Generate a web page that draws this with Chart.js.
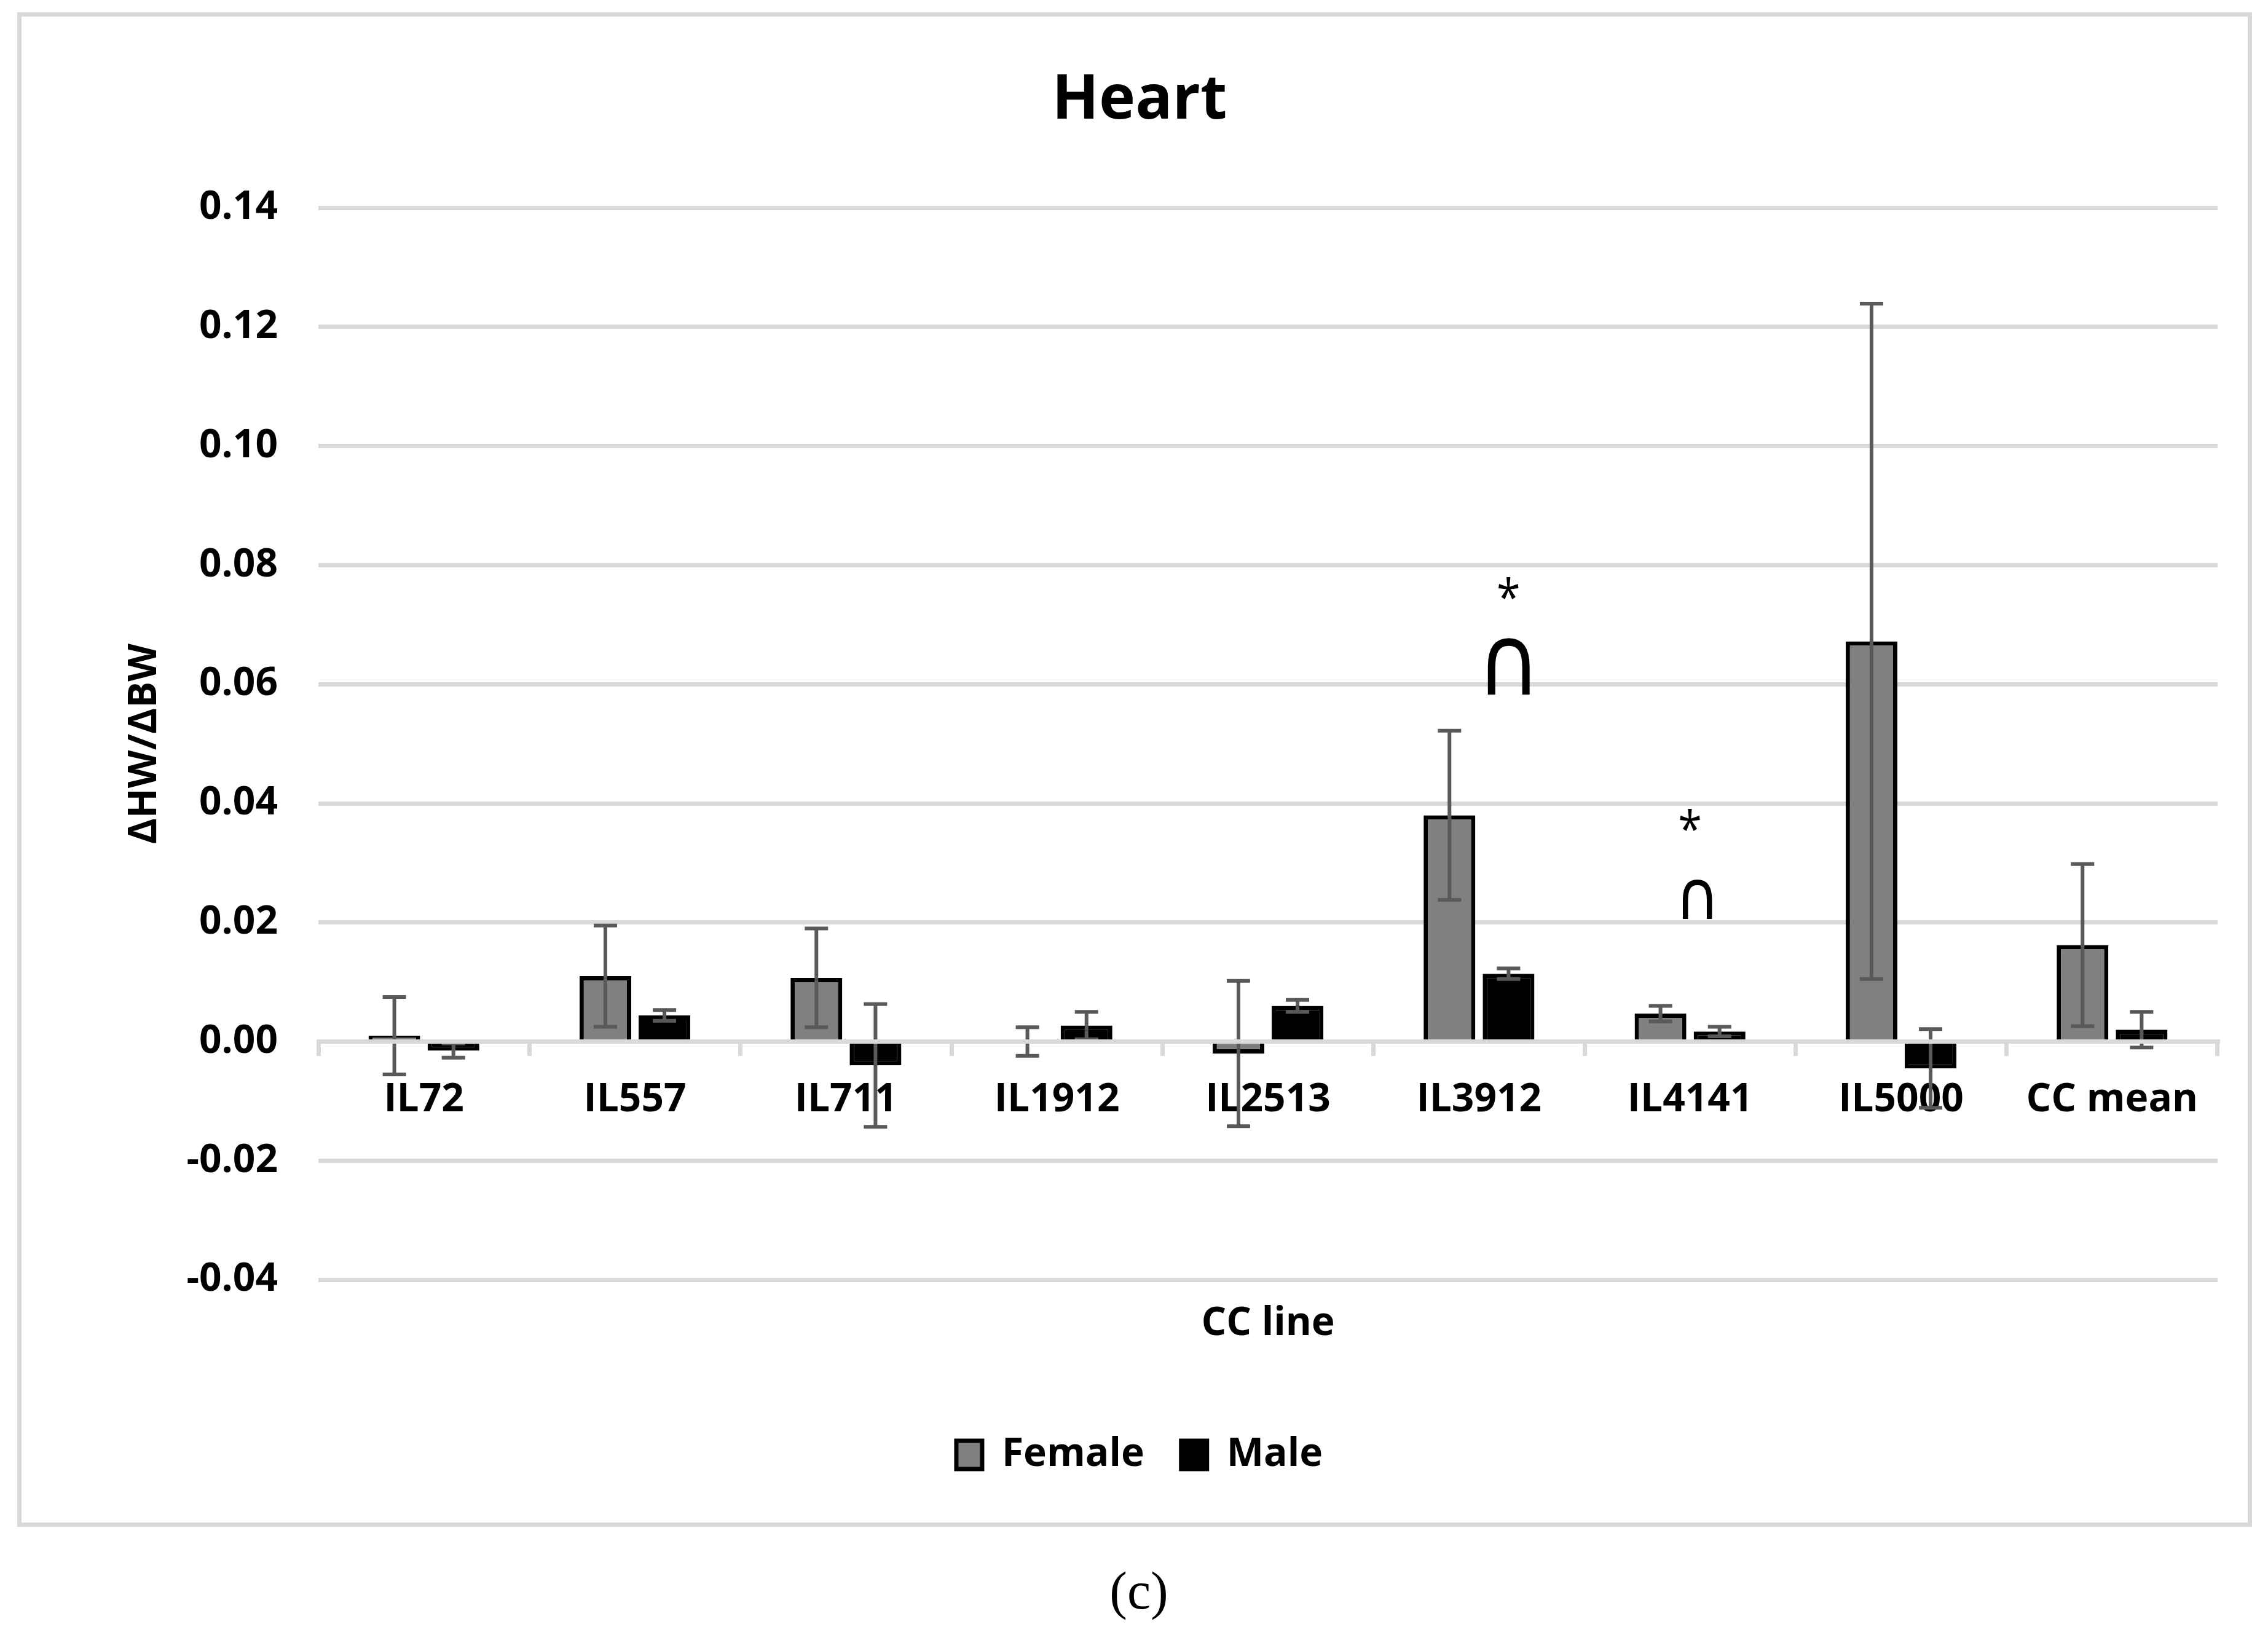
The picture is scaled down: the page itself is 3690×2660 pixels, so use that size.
<!DOCTYPE html>
<html>
<head>
<meta charset="utf-8">
<script src="https://cdn.jsdelivr.net/npm/chart.js@4.4.1/dist/chart.umd.min.js"></script>
<style>
  body { margin: 0; background: #fff; }
  #frame { position: absolute; left: 28px; top: 20px; width: 3636px; height: 2464px; box-sizing: border-box; border: 7px solid #d9d9d9; }
  #c { position: absolute; left: 0; top: 0; }
  #caption { position: absolute; left: 0; top: 2538px; width: 3706px; text-align: center; font: 86px "Liberation Serif", serif; line-height: 100px; color: #000; }
</style>
</head>
<body>
<div id="frame"></div>
<canvas id="c" width="3690" height="2660"></canvas>
<div id="caption">(c)</div>
<script>
// values
const categories = ['IL72', 'IL557', 'IL711', 'IL1912', 'IL2513', 'IL3912', 'IL4141', 'IL5000', 'CC mean'];
const female    = [0.0010, 0.0110, 0.0107, 0.0000, -0.0020, 0.0380, 0.0047, 0.0672, 0.0162];
const femaleErr = [0.0065, 0.0085, 0.0083, 0.0024, 0.0122, 0.0142, 0.0013, 0.0567, 0.0136];
const male      = [-0.0015, 0.0044, -0.0040, 0.0027, 0.0060, 0.0114, 0.0017, -0.0045, 0.0020];
const maleErr   = [0.0012, 0.0009, 0.0103, 0.0023, 0.0010, 0.0009, 0.0008, 0.0066, 0.0030];
const yTicks = [-0.04, -0.02, 0.00, 0.02, 0.04, 0.06, 0.08, 0.10, 0.12, 0.14];

// significance marks: category, symbol, value at its centre, dataset it sits over (-1 = centre)
const marks = [
  { cat: 'IL3912', text: '*', value: 0.0762, over: 1 },
  { cat: 'IL3912', text: '\u2229', value: 0.0630, over: 1 },
  { cat: 'IL4141', text: '*', value: 0.0373, over: -1 },
  { cat: 'IL4141', text: '\u2229', value: 0.0239, over: -1 }
];

const FONT = '"Open Sans", "Noto Sans", sans-serif';

const errorBars = {
  id: 'errorBars',
  afterDatasetsDraw(chart) {
    const ctx = chart.ctx;
    const y = chart.scales.y;
    ctx.save();
    ctx.strokeStyle = '#595959';
    ctx.lineWidth = 6;
    chart.data.datasets.forEach((ds, i) => {
      chart.getDatasetMeta(i).data.forEach((bar, j) => {
        const v = ds.data[j], e = ds.errors[j];
        const top = y.getPixelForValue(v + e);
        const bot = y.getPixelForValue(v - e);
        ctx.beginPath();
        ctx.moveTo(bar.x, top); ctx.lineTo(bar.x, bot);
        ctx.moveTo(bar.x - 19, top); ctx.lineTo(bar.x + 19, top);
        ctx.moveTo(bar.x - 19, bot); ctx.lineTo(bar.x + 19, bot);
        ctx.stroke();
      });
    });
    ctx.restore();
  }
};

const sigMarks = {
  id: 'sigMarks',
  afterDraw(chart) {
    const ctx = chart.ctx;
    const x = chart.scales.x, y = chart.scales.y;
    ctx.save();
    ctx.fillStyle = '#000';
    ctx.textAlign = 'left';
    ctx.textBaseline = 'alphabetic';
    marks.forEach(m => {
      const idx = categories.indexOf(m.cat);
      const star = m.text === '*';
      let cx = m.over >= 0 ? chart.getDatasetMeta(m.over).data[idx].x : x.getPixelForValue(idx);
      if (!star && m.over < 0) cx += 12;
      const cy = y.getPixelForValue(m.value);
      // glyph box to fit (w, h)
      const w = star ? 33 : (m.over >= 0 ? 70 : 49);
      const h = star ? 36 : (m.over >= 0 ? 92 : 64);
      ctx.font = '100px ' + (star ? FONT : '"DejaVu Sans", sans-serif');
      const t = ctx.measureText(m.text);
      const bw = t.actualBoundingBoxRight + t.actualBoundingBoxLeft;
      const bh = t.actualBoundingBoxAscent + t.actualBoundingBoxDescent;
      ctx.save();
      ctx.translate(cx, cy);
      ctx.scale(w / bw, h / bh);
      ctx.fillText(m.text, -(t.actualBoundingBoxRight - t.actualBoundingBoxLeft) / 2,
                   (t.actualBoundingBoxAscent - t.actualBoundingBoxDescent) / 2);
      ctx.restore();
    });
    ctx.restore();
  }
};

new Chart(document.getElementById('c'), {
  type: 'bar',
  data: {
    labels: categories,
    datasets: [
      { label: 'Female', data: female, errors: femaleErr, backgroundColor: '#808080', borderColor: '#000', borderWidth: 7 },
      { label: 'Male', data: male, errors: maleErr, backgroundColor: '#000', borderColor: '#000', borderWidth: 7 }
    ]
  },
  options: {
    responsive: false,
    devicePixelRatio: 1,
    animation: false,
    categoryPercentage: 0.56,
    barPercentage: 0.875,
    layout: { padding: { top: 37, left: 100, right: 82, bottom: 251 } },
    plugins: {
      tooltip: { enabled: false },
      title: {
        display: true, text: 'Heart', color: '#000',
        font: { family: FONT, size: 100, weight: 'bold' },
        padding: { top: 68, bottom: 113 }
      },
      subtitle: {
        display: true, text: 'CC line', position: 'bottom', fullSize: false, color: '#000',
        font: { family: FONT, size: 64, weight: 'bold' },
        padding: { top: 33, bottom: 83 }
      },
      legend: {
        position: 'bottom', weight: 3000,
        labels: { color: '#000', boxWidth: 42, boxHeight: 46, padding: 60, font: { family: FONT, size: 64, weight: 'bold' } }
      }
    },
    scales: {
      x: {
        position: { y: 0 },
        offset: true,
        grid: { offset: true, drawOnChartArea: false, drawTicks: true, tickLength: 20, tickWidth: 7, tickColor: '#d9d9d9', color: '#d9d9d9', lineWidth: 7 },
        border: { display: true, color: '#d9d9d9', width: 7, z: 1 },
        ticks: { color: '#000', padding: 37, maxRotation: 0, autoSkip: false, font: { family: FONT, size: 64, weight: 'bold' } }
      },
      y: {
        min: yTicks[0],
        max: yTicks[yTicks.length - 1],
        afterBuildTicks: (s) => { s.ticks = yTicks.map(v => ({ value: v })); },
        afterFit: (s) => { s.width = 418; },
        grid: { color: '#d9d9d9', lineWidth: 7, drawTicks: false },
        border: { display: false },
        ticks: {
          color: '#000', padding: 66,
          font: { family: FONT, size: 64, weight: 'bold' },
          callback: (v) => Math.abs(v) < 1e-9 ? '0.00' : Number(v).toFixed(2)
        },
        title: {
          display: true, text: '\u0394HW/\u0394BW', color: '#000',
          font: { family: FONT, size: 64, weight: 'bold' },
          padding: { top: 97, bottom: 30 }
        }
      }
    }
  },
  plugins: [errorBars, sigMarks]
});
</script>
</body>
</html>
